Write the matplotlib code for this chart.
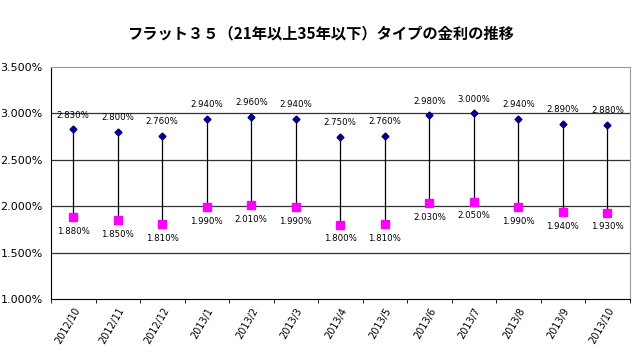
import numpy as np
import matplotlib.pyplot as plt

plt.rcParams['font.family'] = ['Noto Sans CJK JP', 'DejaVu Sans']

# データ
months = ['2012/10', '2012/11', '2012/12', '2013/1', '2013/2', '2013/3', '2013/4',
          '2013/5', '2013/6', '2013/7', '2013/8', '2013/9', '2013/10']
high = [2.83, 2.80, 2.76, 2.94, 2.96, 2.94, 2.75, 2.76, 2.98, 3.00, 2.94, 2.89, 2.88]
low = [1.88, 1.85, 1.81, 1.99, 2.01, 1.99, 1.80, 1.81, 2.03, 2.05, 1.99, 1.94, 1.93]

x = np.arange(len(months))

fig = plt.figure(figsize=(6.4, 3.53), dpi=100)
ax = fig.add_axes([0.0797, 0.153, 0.904, 0.657])

# 高低線
ax.vlines(x, low, high, color='black', lw=0.9, zorder=2)
ax.plot(x, high, 'D', color='#000080', ms=3.5, zorder=3)
ax.plot(x, low, 's', color='#FF00FF', ms=5.5, zorder=3)

for xi, h, l in zip(x, high, low):
    ax.annotate(f'{h:.3f}%', (xi, h), xytext=(0, 7), textcoords='offset points',
                ha='center', va='bottom', fontsize=6.2, family='DejaVu Sans')
    ax.annotate(f'{l:.3f}%', (xi, l), xytext=(0, -7), textcoords='offset points',
                ha='center', va='top', fontsize=6.2, family='DejaVu Sans')

ax.set_xlim(-0.5, len(months) - 0.5)
ax.set_ylim(1.0, 3.5)
yt = [1.0, 1.5, 2.0, 2.5, 3.0, 3.5]
ax.set_yticks(yt)
ax.set_yticklabels([f'{v:.3f}%' for v in yt], fontsize=8, family='DejaVu Sans')
ax.tick_params(axis='y', length=0, pad=6)
for v in [1.5, 2.0, 2.5, 3.0]:
    ax.axhline(v, color='#333333', lw=0.9, zorder=1)

ax.set_xticks(x)
ax.set_xticklabels(months, rotation=60, ha='right', rotation_mode='anchor',
                   fontsize=7, family='DejaVu Sans')
ax.set_xticks(np.arange(len(months) + 1) - 0.5, minor=True)
ax.tick_params(axis='x', which='major', length=0, pad=5)
ax.tick_params(axis='x', which='minor', length=3, direction='out')

for s in ['top', 'right']:
    ax.spines[s].set_color('#999999')
for s in ['left', 'bottom']:
    ax.spines[s].set_color('black')

fig.text(0.5, 0.905, 'フラット３５（21年以上35年以下）タイプの金利の推移',
         ha='center', va='center', fontsize=11, fontweight='bold')

fig.savefig('out.png', dpi=100)
